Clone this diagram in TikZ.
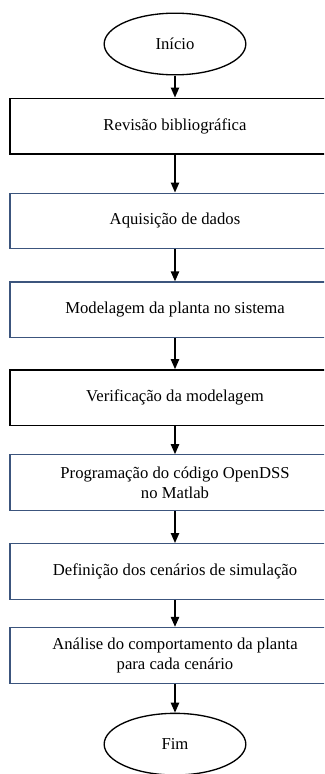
\documentclass[tikz,border=0pt]{standalone}
\usepackage{fontspec}
\setmainfont{Liberation Serif}
\usetikzlibrary{positioning,arrows.meta,shapes.geometric}
\definecolor{caixaazul}{RGB}{60,85,125}

\begin{document}
\begin{tikzpicture}[x=0.6pt, y=-0.6pt,
    etapa/.style={draw, line width=0.8pt, minimum width=198pt, minimum height=33.4pt, align=center, inner sep=2pt},
    etapaazul/.style={etapa, draw=caixaazul, line width=0.7pt},
    terminal/.style={draw, ellipse, line width=0.8pt, minimum width=85pt, minimum height=37pt},
    seta/.style={-{Triangle[width=5pt,length=6pt]}, line width=0.9pt}]
  \useasboundingbox (0,0) rectangle (324,774);
  \clip (0,0) rectangle (324,774);
  \node [terminal] (inicio) at (175,44) {Início};
  \node [etapa, below=13.2pt of inicio] (revisao) {Revisão bibliográfica};
  \node [etapaazul, below=22.8pt of revisao] (aquisicao) {Aquisição de dados};
  \node [etapaazul, below=19.2pt of aquisicao] (modelagem) {Modelagem da planta no sistema};
  \node [etapa, below=18.6pt of modelagem] (verificacao) {Verificação da modelagem};
  \node [etapaazul, below=16.8pt of verificacao] (programacao) {Programação do código OpenDSS\\no Matlab};
  \node [etapaazul, below=19.2pt of programacao] (cenarios) {Definição dos cenários de simulação};
  \node [etapaazul, below=16.2pt of cenarios] (analise) {Análise do comportamento da planta\\para cada cenário};
  \node [terminal, below=17.4pt of analise] (fim) {Fim};

  \draw [seta] (inicio) -- (revisao);
  \draw [seta] (revisao) -- (aquisicao);
  \draw [seta] (aquisicao) -- (modelagem);
  \draw [seta] (modelagem) -- (verificacao);
  \draw [seta] (verificacao) -- (programacao);
  \draw [seta] (programacao) -- (cenarios);
  \draw [seta] (cenarios) -- (analise);
  \draw [seta] (analise) -- (fim);
\end{tikzpicture}
\end{document}
